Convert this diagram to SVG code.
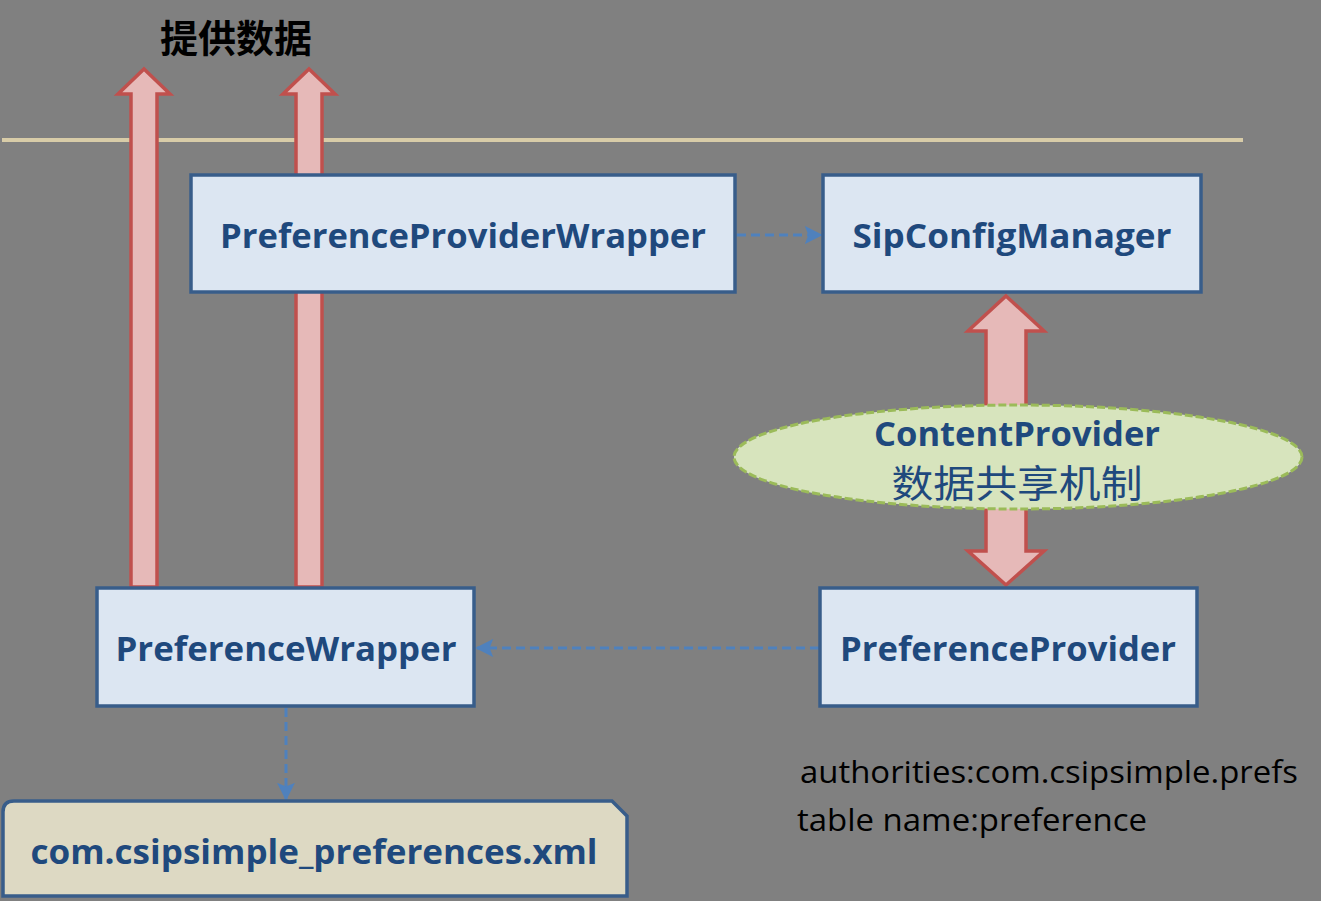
<svg xmlns="http://www.w3.org/2000/svg" width="1321" height="901" viewBox="0 0 1321 901">
<style>
.box{fill:#dce6f2;stroke:#385d8a;stroke-width:3.5}
.big{fill:#e6b9b8;stroke:#c0504d;stroke-width:3.5;stroke-linejoin:miter}
.lbl{font-family:"Open Sans","Noto Sans",sans-serif;font-weight:bold;font-size:34px;fill:#1f497d;text-anchor:middle}
.dash{stroke:#4f81bd;stroke-width:3;stroke-dasharray:9,5;fill:none}
.note{font-family:"Open Sans","Noto Sans",sans-serif;font-size:31px;fill:#000}
</style>
<defs>
<marker id="ah" viewBox="0 0 10 10" refX="9" refY="5" markerWidth="18" markerHeight="18" orient="auto" markerUnits="userSpaceOnUse">
<path d="M0,0 L10,5 L0,10 L2,5 z" fill="#4f81bd"/>
</marker>
</defs>
<rect width="1321" height="901" fill="#808080"/>
<line x1="2" y1="140" x2="1243" y2="140" stroke="#d8cca8" stroke-width="4"/>
<text x="236" y="52" font-family="'Liberation Serif','Noto Sans CJK SC',serif" font-weight="bold" font-size="38" text-anchor="middle" fill="#000" textLength="152" lengthAdjust="spacingAndGlyphs">提供数据</text>

<g id="connectors">
<polygon class="big" points="144,69 170,94 157,94 157,587 131,587 131,94 118,94"/>
<polygon class="big" points="309,69 335,94 322,94 322,587 296,587 296,94 283,94"/>
<polygon class="big" points="1006,296 1044,331 1026,331 1026,551 1044,551 1006,585 968,551 986,551 986,331 968,331"/>
<line class="dash" x1="737" y1="235" x2="821" y2="235" marker-end="url(#ah)"/>
<line class="dash" x1="819" y1="648" x2="477" y2="648" marker-end="url(#ah)"/>
<line class="dash" x1="286" y1="708" x2="286" y2="799" marker-end="url(#ah)"/>
</g>

<g id="ppw">
<rect class="box" x="191" y="175" width="544" height="117"/>
<text class="lbl" x="463" y="248" textLength="486" lengthAdjust="spacingAndGlyphs">PreferenceProviderWrapper</text>
</g>
<g id="scm">
<rect class="box" x="823" y="175" width="378" height="117"/>
<text class="lbl" x="1012" y="248" textLength="319" lengthAdjust="spacingAndGlyphs">SipConfigManager</text>
</g>
<g id="cp">
<ellipse cx="1018" cy="457" rx="284" ry="52" fill="#d7e4bd" stroke="#9bbb59" stroke-width="3" stroke-dasharray="8,3"/>
<text class="lbl" x="1017" y="446" textLength="286" lengthAdjust="spacingAndGlyphs">ContentProvider</text>
<text x="1017" y="497" font-family="'Noto Sans CJK SC',sans-serif" font-size="38" text-anchor="middle" fill="#1f497d" textLength="251" lengthAdjust="spacingAndGlyphs">数据共享机制</text>
</g>
<g id="pw">
<rect class="box" x="97" y="588" width="377" height="118"/>
<text class="lbl" x="286" y="661" textLength="341" lengthAdjust="spacingAndGlyphs">PreferenceWrapper</text>
</g>
<g id="pp">
<rect class="box" x="820" y="588" width="377" height="118"/>
<text class="lbl" x="1008" y="661" textLength="336" lengthAdjust="spacingAndGlyphs">PreferenceProvider</text>
</g>
<g id="xml">
<path d="M14,801 L612,801 L627,816 L627,896 L3,896 L3,812 Q3,801 14,801 Z" fill="#ddd9c3" stroke="#385d8a" stroke-width="3.5"/>
<text class="lbl" x="314" y="864" textLength="567" lengthAdjust="spacingAndGlyphs">com.csipsimple_preferences.xml</text>
</g>
<text class="note" x="800" y="783" textLength="498" lengthAdjust="spacingAndGlyphs">authorities:com.csipsimple.prefs</text>
<text class="note" x="797" y="831" textLength="350" lengthAdjust="spacingAndGlyphs">table name:preference</text>
</svg>
